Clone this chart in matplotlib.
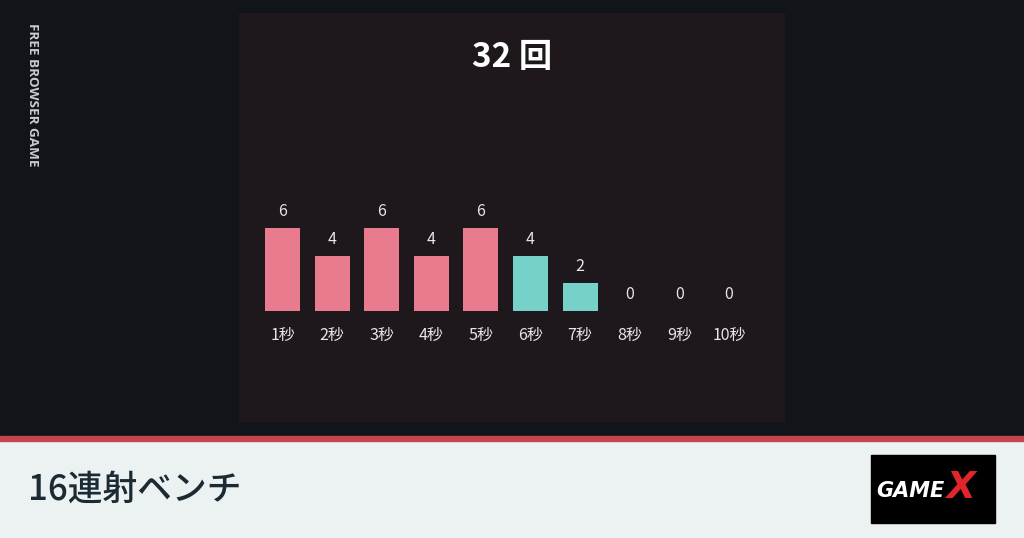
#!/usr/bin/env python3
"""16連射ベンチ result card"""
import matplotlib
matplotlib.use('Agg')
import matplotlib.pyplot as plt
from matplotlib.patches import Rectangle

plt.rcParams['font.family'] = ['Noto Sans CJK JP', 'DejaVu Sans']

# data
seconds = ['1秒', '2秒', '3秒', '4秒', '5秒', '6秒', '7秒', '8秒', '9秒', '10秒']
counts = [6, 4, 6, 4, 6, 4, 2, 0, 0, 0]
bar_colors = ['#e87b8e'] * 5 + ['#76d1c8'] * 5
total_label = '32 回'
page_title = '16連射ベンチ'
side_text = 'FREE BROWSER GAME'

W, H = 1024, 538
fig = plt.figure(figsize=(W / 100, H / 100), dpi=100)
fig.patch.set_facecolor('#111419')


def fx(px):
    return px / W


def fy(py):
    return 1 - py / H


# bottom band and red stripe
bg = fig.add_axes([0, 0, 1, 1])
bg.set_xlim(0, W)
bg.set_ylim(H, 0)
bg.axis('off')
bg.add_patch(Rectangle((0, 441), W, H - 441, color='#ecf1f2'))
bg.add_patch(Rectangle((0, 436), W, 5, color='#c4444f'))
# logo
bg.add_patch(Rectangle((871, 455), 124, 68, color='#000000'))
bg.text(910, 491, 'GAME', color='white', fontsize=15, fontweight='bold',
        style='italic', ha='center', va='center', family='DejaVu Sans')
bg.text(961, 488, 'X', color='#e0262b', fontsize=27, fontweight='bold',
        style='italic', ha='center', va='center', family='DejaVu Sans')

bg.text(28, 490, page_title, color='#1b2a33', fontsize=25, ha='left',
        va='center', fontweight='medium')
bg.text(32, 95, side_text, color='#c9ccd1', fontsize=9.7, fontweight='bold',
        rotation=-90, ha='center', va='center', family='Open Sans')

# chart panel
px0, px1, py0, py1 = 239, 785, 13, 422
ax = fig.add_axes([fx(px0), fy(py1), fx(px1 - px0), (py1 - py0) / H])
ax.set_facecolor('#1e181d')
for s in ax.spines.values():
    s.set_visible(False)
ax.set_xticks([])
ax.set_yticks([])

step = 49.6
unit = 13.83
x_first = 282.5
base = 311
ax.set_xlim(-(x_first - px0) / step, (px1 - x_first) / step)
ax.set_ylim(-(py1 - base) / unit, (base - py0) / unit)

xs = list(range(len(seconds)))
ax.bar(xs, counts, width=35 / step, color=bar_colors)
for x, v, lab in zip(xs, counts, seconds):
    ax.text(x, v + 1.2, str(v), color='#e6e6e6', fontsize=11.5,
            ha='center', va='center')
    ax.text(x, -1.8, lab, color='#e6e6e6', fontsize=11.5,
            ha='center', va='center')

fig.text(fx(512), fy(57), total_label, color='white', fontsize=24,
         fontweight='bold', ha='center', va='center')

fig.savefig('out.png', dpi=100, facecolor=fig.get_facecolor())
